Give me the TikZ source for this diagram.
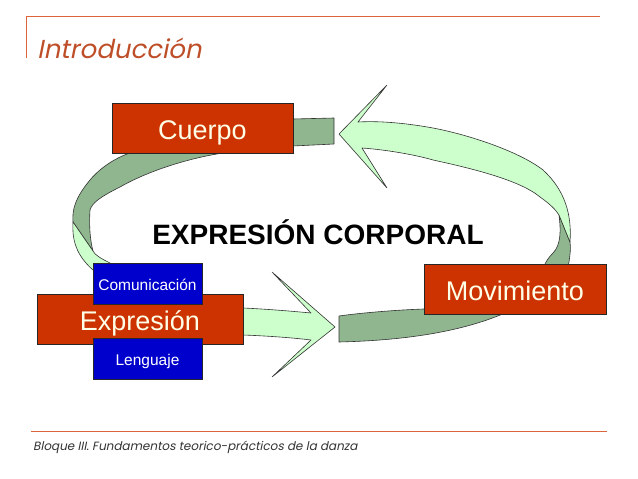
\documentclass[tikz,border=0pt]{standalone}
\usepackage{fontspec}
\setmainfont{Liberation Sans}
\newfontfamily\gothic[AutoFakeSlant=0.2]{Poppins}
\definecolor{boxred}{RGB}{204,51,0}
\definecolor{boxblue}{RGB}{0,0,204}
\definecolor{darkribbon}{RGB}{143,182,143}
\definecolor{lightribbon}{RGB}{204,255,204}
\definecolor{titlecol}{RGB}{190,78,40}
\definecolor{rulecol}{RGB}{222,100,60}
\definecolor{cream}{RGB}{255,255,232}
\tikzset{
  redbox/.style={draw=black!85, line width=0.7pt, fill=boxred, text=cream, font=\fontsize{27}{30}\selectfont, inner sep=0pt, text height=23.3pt, text depth=0pt},
  bluebox/.style={draw=black!85, line width=0.7pt, fill=boxblue, text=white, font=\fontsize{15.5}{18}\selectfont, inner sep=0pt, minimum width=109pt, minimum height=41pt, text height=14.1pt, text depth=0pt},
  ribbon/.style={draw=black!80, line width=0.6pt, line join=round},
}
\begin{document}
\begin{tikzpicture}[x=1pt,y=-1pt]
\useasboundingbox (0,0) rectangle (638,479);
% header
\coordinate (h1) at (26,58);
\coordinate (h2) at (26,16);
\coordinate (h3) at (600,16);
\draw[rulecol, line width=1pt] (h1) -- (h2) -- (h3);
\node[anchor=base west, inner sep=0pt, text=titlecol, font=\gothic\itshape\fontsize{26}{30}\selectfont] (title) at (37,58) {Introducción};
% footer
\coordinate (f1) at (31,431);
\coordinate (f2) at (607,431);
\draw[rulecol, line width=1pt] (f1) -- (f2);
\node[anchor=base west, inner sep=0pt, text=black!80, font=\gothic\itshape\fontsize{12}{14}\selectfont] (footer) at (33,450) {Bloque III. Fundamentos teorico-prácticos de la danza};

% arrow 1 (right), dark back part
\draw[ribbon, fill=darkribbon] (339,316) -- (339,342) .. controls (420,340) and (470,328) .. (505,313)
  .. controls (545,295) and (566,280) .. (569,262) .. controls (570,255) and (571,248) .. (570,242)
  -- (559,215) .. controls (561,230) and (561,245) .. (553,253) .. controls (548,258) and (546,262) .. (545,264)
  .. controls (520,285) and (470,302) .. (424,309) .. controls (395,310) and (360,313) .. (339,316) -- cycle;
% arrow 1 light front part
\draw[ribbon, fill=lightribbon] (570,242) .. controls (572,215) and (565,190) .. (543,170)
  .. controls (520,152) and (470,135) .. (433,128) .. controls (400,122) and (375,121) .. (358,122)
  -- (387,85) -- (339,134) -- (387,188) -- (362,148)
  .. controls (390,150) and (420,156) .. (433,160) .. controls (470,168) and (520,180) .. (540,197)
  .. controls (550,204) and (556,210) .. (559,215) -- cycle;

% arrow 2 (left), dark back part
\draw[ribbon, fill=darkribbon] (334,118) -- (334,144) -- (293,146)
  .. controls (260,148) and (240,151) .. (223,153) .. controls (190,158) and (150,170) .. (120,187)
  .. controls (100,197) and (92,203) .. (90,210) .. controls (89,225) and (90,240) .. (93,251)
  -- (73,222) .. controls (72,210) and (75,198) .. (90,180) .. controls (100,168) and (115,158) .. (130,153)
  .. controls (180,130) and (250,120) .. (293,119) -- cycle;
% arrow 2 light front part
\draw[ribbon, fill=lightribbon] (73,222) .. controls (72,240) and (76,255) .. (93,270)
  .. controls (120,300) and (180,330) .. (243,335) .. controls (270,336) and (295,338) .. (311,340)
  -- (272,377) -- (335,327) -- (272,272) -- (311,313)
  .. controls (290,311) and (265,309) .. (243,308) .. controls (180,300) and (130,285) .. (110,263)
  .. controls (100,258) and (95,255) .. (93,251) -- cycle;

% boxes
\node[redbox, minimum width=181pt, minimum height=50pt] (cuerpo) at (202.5,128) {Cuerpo};
\node[redbox, minimum width=182pt, minimum height=50pt] (movimiento) at (515,289) {Movimiento};
\node[redbox, minimum width=206pt, minimum height=50pt] (expresion) at (140,319) {Expresión};
\node[bluebox] (comunicacion) at (147.5,283.5) {Comunicación};
\node[bluebox] (lenguaje) at (147.5,358.5) {Lenguaje};

\node[font=\bfseries\fontsize{28}{32}\selectfont, inner sep=0pt] (center) at (318,232) {EXPRESIÓN CORPORAL};
\end{tikzpicture}
\end{document}
